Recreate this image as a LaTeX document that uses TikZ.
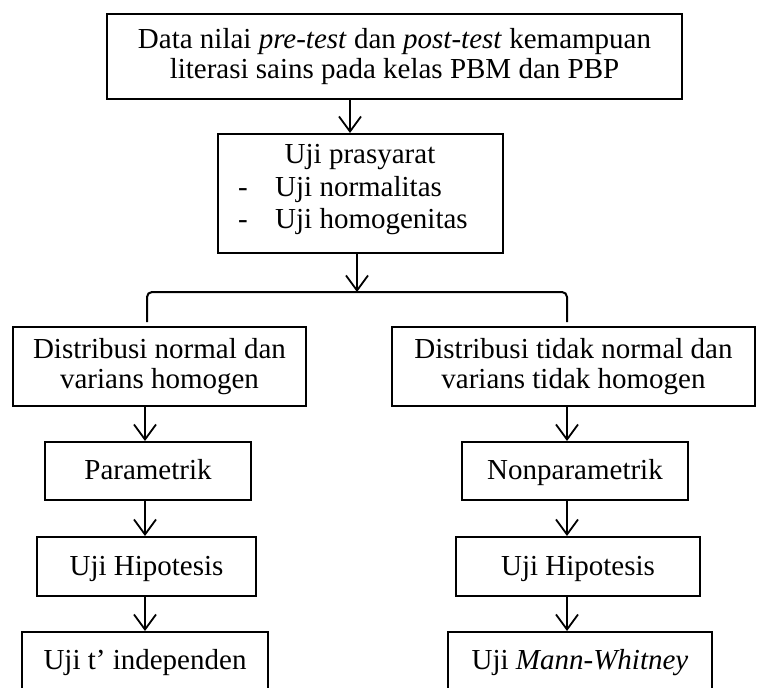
\documentclass[tikz,border=0pt]{standalone}
\usepackage{fontspec}
\setmainfont{Liberation Serif}
\usetikzlibrary{arrows.meta}
\begin{document}
\begin{tikzpicture}[x=1pt,y=-1pt,
  box/.style={draw, line width=2pt, inner sep=0pt, align=center, font=\fontsize{29}{30}\selectfont},
  one/.style={box, text height=17pt, text depth=0pt},
  txt/.style={inner sep=0pt, font=\fontsize{29}{30}\selectfont},
  arr/.style={line width=1.8pt, -{Straight Barb[length=15pt,width=22pt,line width=1.8pt]}},
  link/.style={line width=2pt, rounded corners=5pt}]
\useasboundingbox (0,0) rectangle (759,687);
\clip (0,0) rectangle (759,687);
% boxes
\node[box, minimum width=575pt, minimum height=85pt] (top) at (394.5,56.5)
  {Data nilai \textit{pre-test} dan \textit{post-test} kemampuan\\literasi sains pada kelas PBM dan PBP};
\node[box, minimum width=285pt, minimum height=119pt] (pre) at (360.5,193.5) {};
\node[txt, anchor=base] (p1) at (360,164) {Uji prasyarat};
\node[txt, anchor=base west] (p2) at (238,196) {-};
\node[txt, anchor=base west] (p3) at (275,196) {Uji normalitas};
\node[txt, anchor=base west] (p4) at (238,228) {-};
\node[txt, anchor=base west] (p5) at (275,228) {Uji homogenitas};
\node[box, minimum width=293pt, minimum height=79pt] (dL) at (159.5,366.5)
  {Distribusi normal dan\\varians homogen};
\node[box, minimum width=363pt, minimum height=79pt] (dR) at (573.5,366.5)
  {Distribusi tidak normal dan\\varians tidak homogen};
\node[one, minimum width=206pt, minimum height=58pt] (pL) at (148,471) {Parametrik};
\node[one, minimum width=226pt, minimum height=58pt] (pR) at (575,471) {Nonparametrik};
\node[one, minimum width=219pt, minimum height=59pt] (hL) at (146.5,566.5) {Uji Hipotesis};
\node[one, minimum width=244pt, minimum height=59pt] (hR) at (578,566.5) {Uji Hipotesis};
\node[one, minimum width=246pt, minimum height=58pt] (uL) at (145,661) {Uji t’ independen};
\node[one, minimum width=264pt, minimum height=58pt] (uR) at (580,661) {Uji \textit{Mann-Whitney}};
% guide coordinates
\coordinate (c1) at (350,0);
\coordinate (bt) at (357,292);
\coordinate (bl) at (147,322);
\coordinate (br) at (567,322);
\coordinate (cl) at (145,0);
\coordinate (cr) at (567,0);
% connectors
\draw[arr] (top.south -| c1) -- (pre.north -| c1);
\draw[arr] (pre.south -| bt) -- (bt);
\draw[link] (bl) |- (bt) -| (br);
\draw[arr] (dL.south -| cl) -- (pL.north -| cl);
\draw[arr] (pL.south -| cl) -- (hL.north -| cl);
\draw[arr] (hL.south -| cl) -- (uL.north -| cl);
\draw[arr] (dR.south -| cr) -- (pR.north -| cr);
\draw[arr] (pR.south -| cr) -- (hR.north -| cr);
\draw[arr] (hR.south -| cr) -- (uR.north -| cr);
\end{tikzpicture}
\end{document}
